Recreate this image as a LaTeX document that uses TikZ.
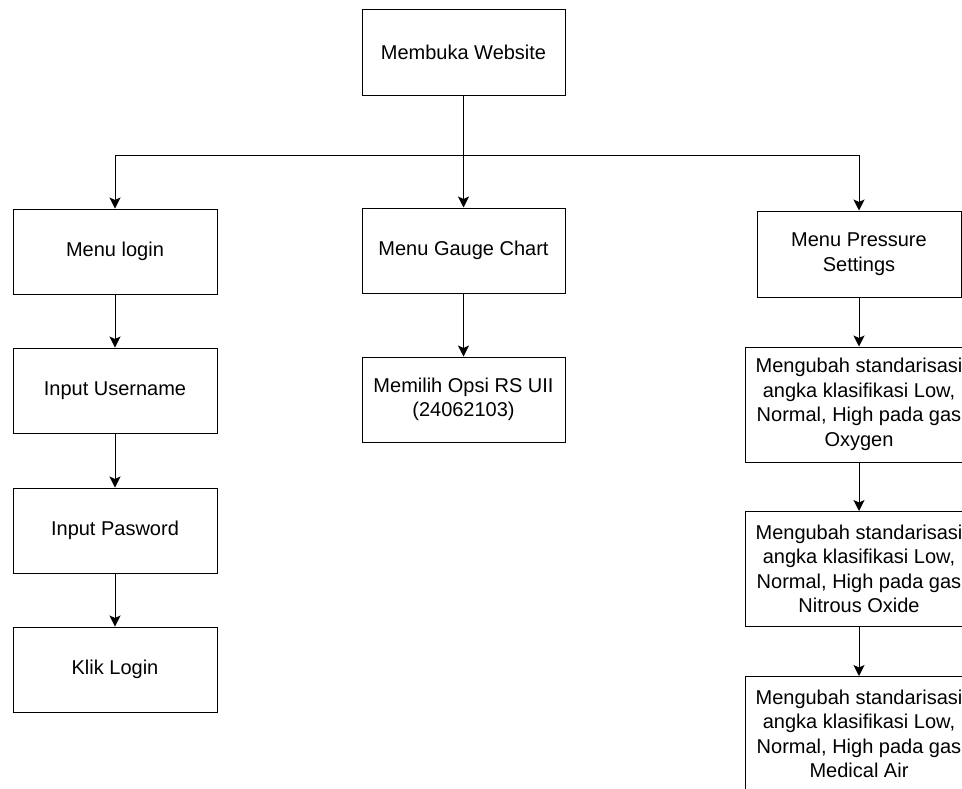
\documentclass[tikz,border=0pt]{standalone}
\usepackage{fontspec}
\setmainfont{Liberation Sans}
\usetikzlibrary{arrows.meta}
\begin{document}
\begin{tikzpicture}[x=1pt,y=-1pt,
  every node/.style={font=\fontsize{20}{24.5}\selectfont, text=black},
  box/.style={draw=black, line width=1pt, fill=white, align=center,
              minimum width=204pt, minimum height=85pt, inner sep=0pt},
  widebox/.style={box, minimum width=228pt, minimum height=115pt},
  arr/.style={draw=black, line width=1pt,
              -{Stealth[length=11pt,width=11pt,inset=2.5pt]}}]
\useasboundingbox (0,0) rectangle (962,788);
\fill[white] (0,0) rectangle (962,788);

% root
\node[box, minimum width=203pt, minimum height=86pt] (web) at (463.5,52) {Membuka Website};

% left column: login flow
\node[box] (login) at (115,251.5) {Menu login};
\node[box] (user)  at (115,390.5) {Input Username};
\node[box] (pass)  at (115,530.5) {Input Pasword};
\node[box] (klik)  at (115,669.5) {Klik Login};

% middle column: gauge chart
\node[box, minimum width=203pt] (gauge) at (463.5,250.5) {Menu Gauge Chart};
\node[box, minimum width=203pt] (opsi)  at (463.5,399.5) {Memilih Opsi RS UII\\(24062103)};

% right column: pressure settings
\node[box, minimum height=86pt] (press) at (859,254) {Menu Pressure\\Settings};
\node[widebox] (oxy) at (859,404.5) {Mengubah standarisasi\\angka klasifikasi Low,\\Normal, High pada gas\\Oxygen};
\node[widebox] (n2o) at (859,569)   {Mengubah standarisasi\\angka klasifikasi Low,\\Normal, High pada gas\\Nitrous Oxide};
\node[widebox] (air) at (859,734)   {Mengubah standarisasi\\angka klasifikasi Low,\\Normal, High pada gas\\Medical Air};

% branching bus under the root
\coordinate (bus) at (463.5,155);
\draw[arr] (web.south) -- (gauge.north);
\draw[arr] (bus) -| (login.north);
\draw[arr] (bus) -| (press.north);

% chains
\draw[arr] (login) -- (user);
\draw[arr] (user) -- (pass);
\draw[arr] (pass) -- (klik);
\draw[arr] (gauge) -- (opsi);
\draw[arr] (press) -- (oxy);
\draw[arr] (oxy) -- (n2o);
\draw[arr] (n2o) -- (air);
\end{tikzpicture}
\end{document}
